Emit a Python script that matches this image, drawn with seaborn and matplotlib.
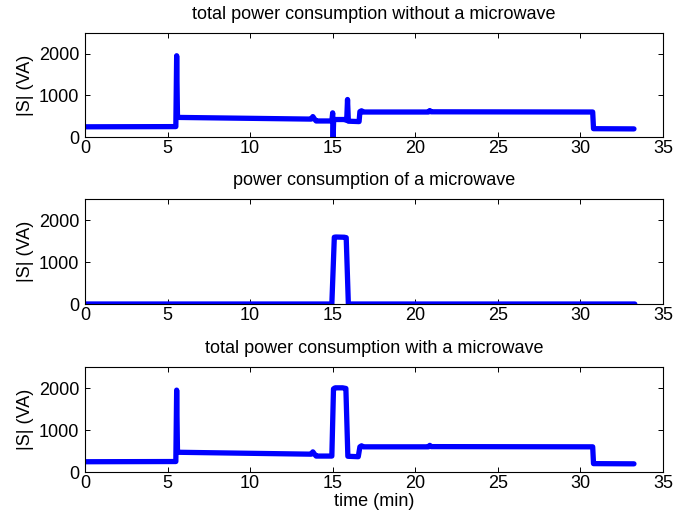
import numpy as np
import pandas as pd
import matplotlib
matplotlib.use("Agg")
import matplotlib.pyplot as plt
import seaborn as sns

# ---- data (time in minutes, |S| in VA) ----
titles = ["total power consumption without a microwave",
          "power consumption of a microwave",
          "total power consumption with a microwave"]

t_without = [0, 5.5, 5.55, 5.6, 5.7, 13.7, 13.8, 13.9, 14.0, 14.95, 15.0, 15.03,
             15.06, 15.7, 15.85, 15.9, 15.95, 16.6, 16.65, 16.75, 16.85, 20.8,
             20.88, 20.97, 30.75, 30.8, 33.25]
s_without = [245, 250, 1950, 480, 470, 430, 490, 430, 385, 385, 580, 0,
             420, 420, 400, 900, 380, 370, 610, 630, 600, 600,
             635, 605, 600, 200, 195]

t_micro = [0, 14.95, 15.1, 15.2, 15.7, 15.82, 15.95, 33.3]
s_micro = [0, 0, 1590, 1595, 1590, 1580, 0, 0]

t_with = [0, 5.5, 5.55, 5.6, 5.7, 13.7, 13.8, 13.9, 14.0, 14.95, 15.05, 15.15,
          15.6, 15.8, 15.92, 16.55, 16.65, 16.75, 16.85, 20.8, 20.88, 20.97,
          30.75, 30.8, 33.25]
s_with = [245, 250, 1950, 480, 470, 425, 480, 425, 380, 380, 1980, 2005,
          2005, 1990, 375, 365, 600, 625, 600, 600, 635, 605,
          600, 200, 195]

x_ticks = [0, 5, 10, 15, 20, 25, 30, 35]
y_ticks = [0, 1000, 2000]
x_label = "time (min)"
y_label = "|S| (VA)"

series = [(t_without, s_without), (t_micro, s_micro), (t_with, s_with)]

# ---- style ----
sns.set_style("ticks")
plt.rcParams["font.family"] = ["Liberation Sans", "DejaVu Sans"]
plt.rcParams["font.size"] = 13
for k in ["text.color", "axes.labelcolor", "xtick.color", "ytick.color",
          "axes.edgecolor"]:
    plt.rcParams[k] = "black"

fig = plt.figure(figsize=(6.97, 5.21), dpi=100)
boxes = [[0.122, 0.737, 0.829, 0.200],
         [0.122, 0.4165, 0.829, 0.2015],
         [0.122, 0.094, 0.829, 0.2015]]

for i, ((tt, ss), box, title) in enumerate(zip(series, boxes, titles)):
    ax = fig.add_axes(box)
    df = pd.DataFrame({"t": tt, "s": ss})
    sns.lineplot(data=df, x="t", y="s", ax=ax, estimator=None, sort=False,
                 color="#0000ff", linewidth=3.8, solid_joinstyle="round",
                 solid_capstyle="round")
    ax.set_xlim(0, 35)
    ax.set_ylim(0, 2500)
    ax.set_xticks(x_ticks)
    ax.set_yticks(y_ticks)
    ax.set_xticklabels([str(v) for v in x_ticks], fontsize=13, color="black")
    ax.set_yticklabels([str(v) for v in y_ticks], fontsize=13, color="black")
    ax.tick_params(direction="in", length=3.5, width=0.7, top=True, right=True,
                   color="black")
    ax.tick_params(axis="x", pad=2)
    ax.tick_params(axis="y", pad=4)
    for sp in ax.spines.values():
        sp.set_visible(True)
        sp.set_color("black")
        sp.set_linewidth(0.8)
    ax.set_title(title, fontsize=13, pad=10, color="black")
    ax.set_ylabel(y_label, fontsize=13, labelpad=4, color="black")
    if i == 2:
        ax.set_xlabel(x_label, fontsize=13, labelpad=1, color="black")
    else:
        ax.set_xlabel("")

fig.savefig("out.png", dpi=100)
